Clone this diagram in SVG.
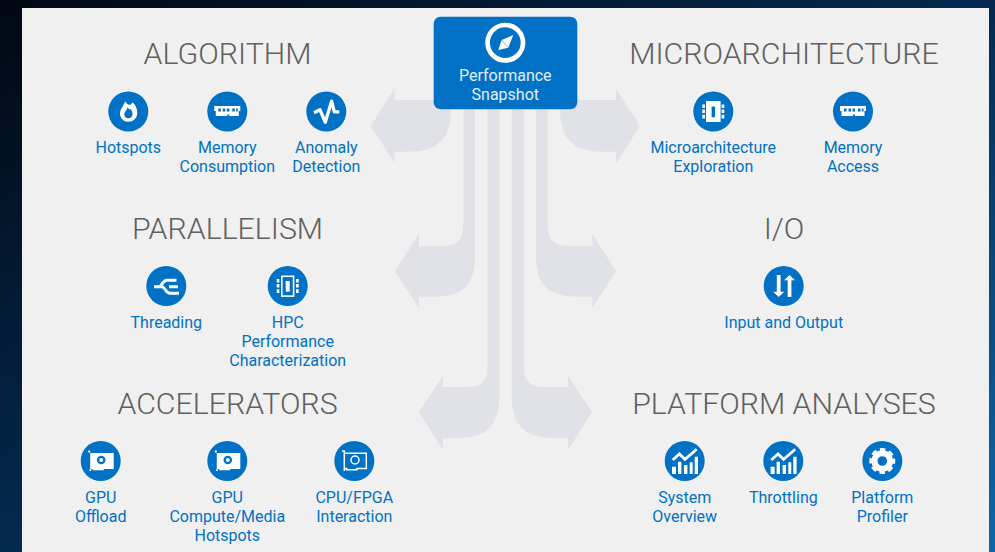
<svg xmlns="http://www.w3.org/2000/svg" width="995" height="552" viewBox="0 0 995 552">
<style>
.h{font-family:Roboto,"Liberation Sans",sans-serif;font-weight:300;font-size:30.3px;fill:#606060;text-anchor:middle}
.l{font-family:Roboto,"Liberation Sans",sans-serif;font-size:16px;fill:#0071c5;text-anchor:middle}
.p{fill:#e4eef8}
.c{fill:#0071c5}
.w{fill:#fff}
.s{fill:none;stroke:#fff}
.a{fill:#e1e2e8}
</style>
<defs>
<linearGradient id="bg" x1="0" y1="0" x2="1" y2="1">
<stop offset="0" stop-color="#010812"/><stop offset="0.5" stop-color="#04294f"/><stop offset="1" stop-color="#0f66a8"/>
</linearGradient>
<g id="ram"><path class="w" d="M-13 -5H13V0H11.500V5H2V3.500H0V5H-11.500V0H-13Z"/><path class="c" d="M-9 -2.500H-6.500V0.500H-9ZM-4.500 -2.500H-2V0.500H-4.500ZM-0.500 -2.500H2V0.500H-0.500ZM5 -2.500H7.500V0.500H5ZM8.800 -2.500H10.500V0.500H8.800Z"/></g>
<g id="pads"><path class="w" d="M-11 -7H-8.300V-3.500H-11ZM-11 -2H-8.300V1.500H-11ZM-11 3.300H-8.300V7H-11ZM8.300 -7H11V-3.500H8.300ZM8.300 -2H11V1.500H8.300ZM8.300 3.300H11V7H8.300Z"/></g>
<g id="gpu"><path class="w" d="M-12.500 -10.500H-10.500V-8H13V8H3V9.300H-8V8H-9.500V10H-11.300V8.500H-10.500V-8.500H-12.500Z"/><circle class="c" cx="0.500" cy="-1" r="4.300"/><circle class="w" cx="0.500" cy="-1" r="2"/></g>
<g id="chart"><path class="s" stroke-width="2.800" d="M-12 -1L-5.300 -7L0.300 -1.700L12 -11.700"/><path class="w" d="M-12.700 5.700H-8.700V13H-12.700ZM-6.700 0.700H-3.300V13H-6.700ZM-0.700 4H2.700V13H-0.700ZM5 1.300H8V13H5ZM10 -4.300H13.300V13H10Z"/></g>
</defs>
<rect width="995" height="552" fill="url(#bg)"/>
<rect x="22" y="8" width="967" height="544" fill="#f0f0f0"/>

<g id="connectors">
<path class="a" d="M451 100H394.700V88.700L370.700 126L394.700 163V151.700H410Q451 151.700 451 110Z"/>
<path class="a" d="M560 100H616V88.700L640 126L616 163V151.700H600Q560 151.700 560 110Z"/>
<path class="a" d="M463.300 105V226Q463.300 246 443 246H419V234L394.700 271L419 308V296.700H437Q475 296.700 475 258V105Z"/>
<path class="a" d="M487.300 105V369Q487.300 387 468 387H443V376L419 412L443 450V438H460Q499.300 438 499.300 397V105Z"/>
<path class="a" d="M524 105V369Q524 387 543 387H568V376L592 412L568 450V438H551Q511.700 438 511.700 397V105Z"/>
<path class="a" d="M547.700 105V226Q547.700 246 568 246H592.300V234L616 271L592.300 308V296.700H574Q536 296.700 536 258V105Z"/>
</g>

<g id="performance-snapshot">
<rect x="433.700" y="16.700" width="143.600" height="92.600" rx="7" class="c"/>
<circle cx="505.300" cy="42.700" r="17.700" fill="none" stroke="#fff" stroke-width="4.700"/>
<path class="w" d="M513.300 35L508.300 47.700L498.300 50L501.600 40Z"/>
<path d="M501.600 40L508.300 47.700" stroke="#0071c5" stroke-width="0.800" opacity="0.600"/>
<text x="505.300" y="81" class="l p">Performance</text>
<text x="505.300" y="100" class="l p">Snapshot</text>
</g>

<text x="227.500" y="64" class="h">ALGORITHM</text>
<text x="784" y="64" class="h">MICROARCHITECTURE</text>
<text x="227.500" y="239" class="h">PARALLELISM</text>
<text x="784" y="239" class="h">I/O</text>
<text x="227.500" y="414" class="h">ACCELERATORS</text>
<text x="784" y="414" class="h">PLATFORM ANALYSES</text>

<g id="hotspots">
<circle cx="128.300" cy="111.500" r="20" class="c"/>
<path class="w" d="M125 100.800C125.500 103 127.500 104.500 130.300 105C131 104 132 103 133 102.500C135.800 105.500 137.300 109 137.300 113C137.300 118 133.500 121.800 128.300 121.800C123.300 121.800 120 118 120 113.500C120 108.500 124.500 105.500 125 100.800Z"/>
<path class="c" d="M127.500 106.800C127.500 110 124.300 111.500 124.300 114.500C124.300 116.800 126 118.200 128.300 118.200C130.800 118.200 132.500 116.500 132.500 114C132.500 112.500 132 110.800 131 109.300C130 110 128.300 109 127.500 106.800Z"/>
<text x="128.300" y="153" class="l">Hotspots</text>
</g>
<g id="memory-consumption">
<circle cx="227.300" cy="111.500" r="20" class="c"/>
<use href="#ram" x="227.300" y="111"/>
<text x="227.300" y="153" class="l">Memory</text><text x="227.300" y="172" class="l">Consumption</text>
</g>
<g id="anomaly-detection">
<circle cx="326.300" cy="111.500" r="20" class="c"/>
<path class="s" stroke-width="3.300" stroke-linejoin="round" d="M314 112.800L320 109.800L325.300 122.200L331.600 101.200L334.300 111.800H339.300"/>
<text x="326.300" y="153" class="l">Anomaly</text><text x="326.300" y="172" class="l">Detection</text>
</g>
<g id="microarchitecture-exploration">
<circle cx="713.300" cy="111.500" r="20" class="c"/>
<rect x="706" y="101" width="14.600" height="21" class="w"/>
<rect x="711.600" y="106.500" width="3.400" height="10.700" class="c"/>
<use href="#pads" x="713.300" y="111.500"/>
<text x="713.300" y="153" class="l">Microarchitecture</text><text x="713.300" y="172" class="l">Exploration</text>
</g>
<g id="memory-access">
<circle cx="853" cy="111.500" r="20" class="c"/>
<use href="#ram" x="853" y="111"/>
<text x="853" y="153" class="l">Memory</text><text x="853" y="172" class="l">Access</text>
</g>
<g id="threading">
<circle cx="166.300" cy="286" r="20" class="c"/>
<path class="s" stroke-width="3" d="M154 286.700H163.300M159 286.700C162 286.700 162 280.300 167 280.300H176.500M162 286.700C165 286.700 165.500 293.300 170 293.300H179M169 286.700H178"/>
<text x="166.300" y="328" class="l">Threading</text>
</g>
<g id="hpc-performance-characterization">
<circle cx="287.700" cy="286" r="20" class="c"/>
<rect x="281.800" y="276.300" width="11.800" height="19.800" fill="none" stroke="#fff" stroke-width="1.600"/>
<rect x="285.700" y="281" width="4" height="10.700" class="w"/>
<use href="#pads" x="287.700" y="286"/>
<text x="287.700" y="328" class="l">HPC</text><text x="287.700" y="347" class="l">Performance</text><text x="287.700" y="366" class="l">Characterization</text>
</g>
<g id="input-output">
<circle cx="783.700" cy="286" r="20" class="c"/>
<path class="w" d="M776.800 275H780.600V291.700H784.200L778.700 297L773.200 291.700H776.800ZM787.700 297V280.300H784L789.500 275L795 280.300H791.400V297Z"/>
<text x="783.700" y="328" class="l">Input and Output</text>
</g>
<g id="gpu-offload">
<circle cx="100.700" cy="461" r="20" class="c"/>
<use href="#gpu" x="100.700" y="461"/>
<text x="100.700" y="503" class="l">GPU</text><text x="100.700" y="522" class="l">Offload</text>
</g>
<g id="gpu-compute-media-hotspots">
<circle cx="227.300" cy="461" r="20" class="c"/>
<use href="#gpu" x="227.300" y="461"/>
<text x="227.300" y="503" class="l">GPU</text><text x="227.300" y="522" class="l">Compute/Media</text><text x="227.300" y="541" class="l">Hotspots</text>
</g>
<g id="cpu-fpga-interaction">
<circle cx="354.300" cy="461" r="20" class="c"/>
<path class="s" stroke-width="1.500" d="M342 451H344.300V453.200H366.300V468.400H357V469.800H346.500V468.400H344.800M344.300 453.200V471"/>
<circle cx="355" cy="460" r="4" class="s" stroke-width="1.500"/>
<text x="354.300" y="503" class="l">CPU/FPGA</text><text x="354.300" y="522" class="l">Interaction</text>
</g>
<g id="system-overview">
<circle cx="684.700" cy="461" r="20" class="c"/>
<use href="#chart" x="684.700" y="461"/>
<text x="684.700" y="503" class="l">System</text><text x="684.700" y="522" class="l">Overview</text>
</g>
<g id="throttling">
<circle cx="783.300" cy="461" r="20" class="c"/>
<use href="#chart" x="783.300" y="461"/>
<text x="783.300" y="503" class="l">Throttling</text>
</g>
<g id="platform-profiler">
<circle cx="882.300" cy="461" r="20" class="c"/>
<circle cx="882.300" cy="461" r="7.800" fill="none" stroke="#fff" stroke-width="6"/>
<circle cx="882.300" cy="461" r="11.500" fill="none" stroke="#fff" stroke-width="3" stroke-dasharray="5.400 3.630" stroke-dashoffset="2.700"/>
<text x="882.300" y="503" class="l">Platform</text><text x="882.300" y="522" class="l">Profiler</text>
</g>
</svg>
